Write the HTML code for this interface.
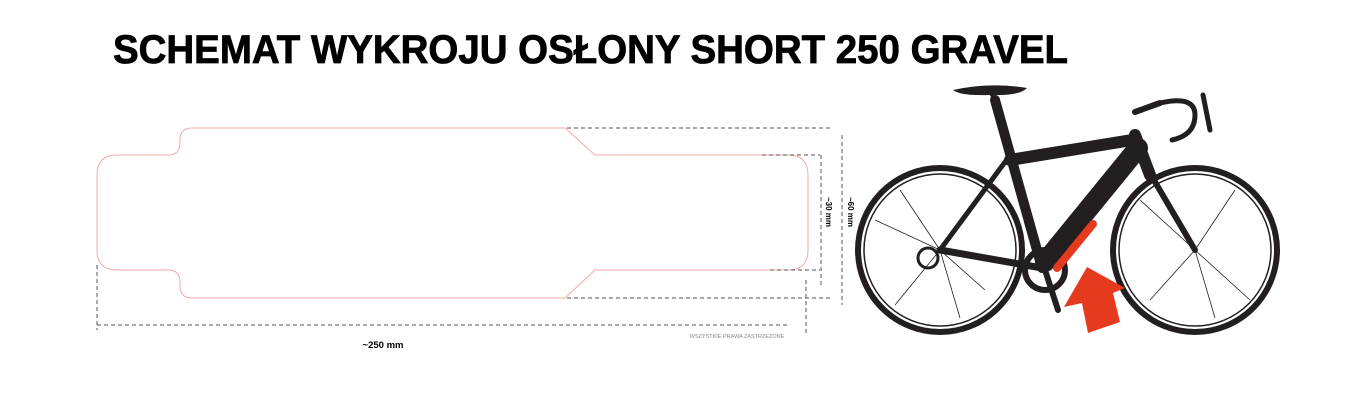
<!DOCTYPE html>
<html><head><meta charset="utf-8"><style>
html,body{margin:0;padding:0;background:#fff;width:1351px;height:402px;overflow:hidden}
svg{display:block}
</style></head><body>
<svg width="1351" height="402" viewBox="0 0 1351 402" xmlns="http://www.w3.org/2000/svg">
<text x="113" y="63" font-family="Liberation Sans, sans-serif" font-weight="bold" font-size="40" textLength="955" lengthAdjust="spacingAndGlyphs" fill="#000" stroke="#000" stroke-width="0.8">SCHEMAT WYKROJU OSŁONY SHORT 250 GRAVEL</text>

<!-- outline -->
<path d="M192,128 H565 L595,155 H788 Q808,155 808,175 V250 Q808,270 788,270 H595 L565,298 H192 Q180,298 180,286 V282 Q180,270 168,270 H117 Q97,270 97,250 V175 Q97,155 117,155 H168 Q180,155 180,143 V140 Q180,128 192,128 Z" fill="none" stroke="#f7a8a8" stroke-width="1"/>

<g stroke="#555" stroke-width="1" stroke-dasharray="4,3" fill="none">
<line x1="567" y1="128" x2="833" y2="128"/>
<line x1="567" y1="298" x2="833" y2="298"/>
<line x1="842" y1="135" x2="842" y2="305"/>
<line x1="762" y1="155" x2="820" y2="155"/>
<line x1="770" y1="270" x2="820" y2="270"/>
<line x1="821" y1="155" x2="821" y2="285"/>
<line x1="97" y1="265" x2="97" y2="330"/>
<line x1="97" y1="325" x2="790" y2="325"/>
<line x1="806" y1="280" x2="806" y2="335"/>
</g>
<text x="383" y="348" font-family="Liberation Sans, sans-serif" font-weight="bold" font-size="9.5" text-anchor="middle">~250 mm</text>
<text transform="translate(826,212) rotate(90)" font-family="Liberation Sans, sans-serif" font-weight="bold" font-size="8" text-anchor="middle">~30 mm</text>
<text transform="translate(848,212) rotate(90)" font-family="Liberation Sans, sans-serif" font-weight="bold" font-size="8" text-anchor="middle">~60 mm</text>
<text x="737" y="338" font-family="Liberation Sans, sans-serif" font-size="5.5" fill="#888" text-anchor="middle">WSZYSTKIE PRAWA ZASTRZEŻONE</text>

<!-- bike -->
<g stroke="#231f20" fill="none">
<circle cx="940" cy="250" r="82" stroke-width="6"/>
<circle cx="940" cy="250" r="76" stroke-width="1.5"/>
<circle cx="1195" cy="250" r="82" stroke-width="6"/>
<circle cx="1195" cy="250" r="76" stroke-width="1.5"/>
<g stroke-width="0.8">
<line x1="940" y1="250" x2="900" y2="190"/><line x1="940" y1="250" x2="875" y2="220"/><line x1="940" y1="250" x2="895" y2="305"/>
<line x1="940" y1="250" x2="960" y2="318"/><line x1="940" y1="250" x2="985" y2="290"/><line x1="940" y1="250" x2="985" y2="190"/>
<line x1="1195" y1="250" x2="1140" y2="200"/><line x1="1195" y1="250" x2="1235" y2="190"/><line x1="1195" y1="250" x2="1250" y2="300"/>
<line x1="1195" y1="250" x2="1215" y2="318"/><line x1="1195" y1="250" x2="1150" y2="300"/>
</g>
<g stroke-linecap="round">
<line x1="940" y1="250" x2="1042" y2="268" stroke-width="7"/>
<line x1="940" y1="250" x2="1008" y2="158" stroke-width="5"/>
<line x1="1042" y1="268" x2="995" y2="100" stroke-width="10"/>
<line x1="1010" y1="160" x2="1132" y2="140" stroke-width="12"/>
<line x1="1045" y1="262" x2="1138" y2="148" stroke-width="20"/>
<line x1="1135" y1="135" x2="1150" y2="175" stroke-width="12"/>
<line x1="1148" y1="170" x2="1195" y2="250" stroke-width="6"/>
<line x1="1135" y1="112" x2="1160" y2="103" stroke-width="6"/>
<path d="M1160,103 Q1195,95 1195,115 Q1195,135 1172,140" stroke-width="5"/>
<line x1="1203" y1="95" x2="1210" y2="130" stroke-width="5"/>
<line x1="988" y1="88" x2="995" y2="100" stroke-width="4"/>
</g>
<circle cx="1045" cy="270" r="20" stroke-width="6"/>
<line x1="1045" y1="270" x2="1058" y2="310" stroke-width="6" stroke-linecap="round"/>
<circle cx="928" cy="258" r="10" stroke-width="3"/>
</g>
<path d="M953,90 Q990,82 1027,88 Q1020,96 990,95 Q960,96 953,90 Z" fill="#231f20"/>
<line x1="1093" y1="224" x2="1057" y2="268" stroke="#e63a1f" stroke-width="8" stroke-linecap="round"/>
<polygon points="1087,267 1125,288 1113,293 1120,322 1088,333 1082,303 1064,307" fill="#e63a1f"/>
</svg>
</body></html>
